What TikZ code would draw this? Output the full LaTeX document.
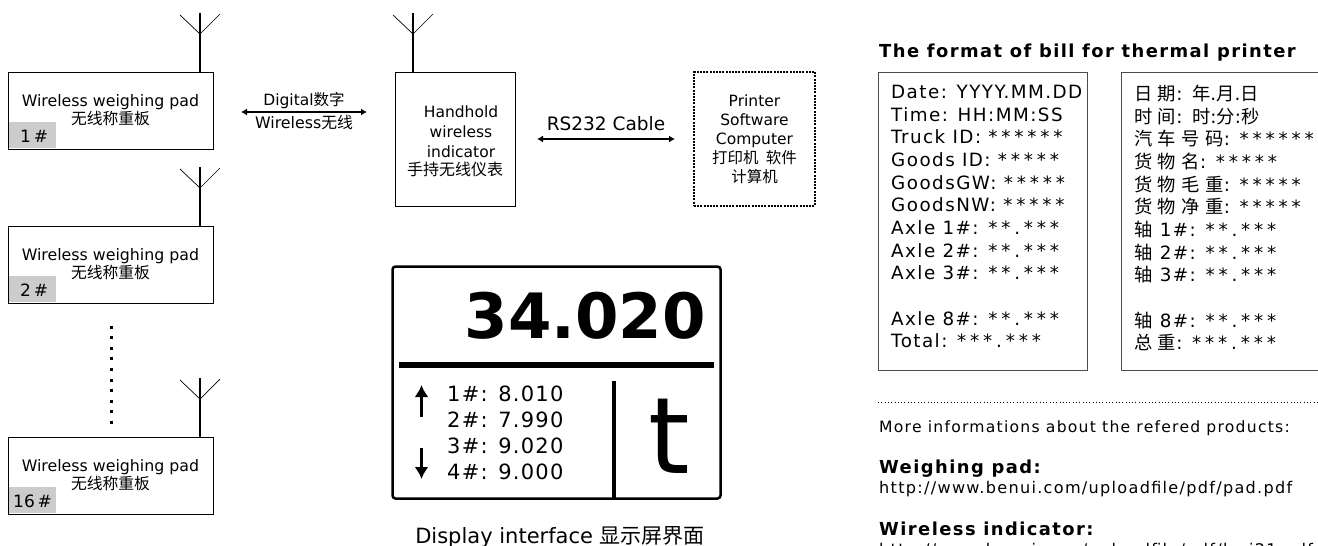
\documentclass[tikz,border=0pt]{standalone}
\usepackage{fontspec}
\usetikzlibrary{arrows.meta}
\setmainfont{DejaVu Sans}
\newfontfamily\cjk{Noto Sans CJK SC}
\newfontfamily\billcjk[LetterSpace=30]{Noto Sans CJK SC}
\newfontfamily\billfont[LetterSpace=8]{DejaVu Sans}
\newfontfamily\starfont[LetterSpace=21]{DejaVu Sans}
\newfontfamily\wghtfont[LetterSpace=6]{DejaVu Sans}
\newcommand{\zh}[1]{{\cjk #1}}
\newcommand{\bz}[1]{{\billcjk #1}}
\newcommand{\st}[1]{{\starfont #1}}
\definecolor{tagColor}{rgb}{0.8,0.8,0.8}
\definecolor{billColor}{rgb}{0.3,0.3,0.3}

\begin{document}
\begin{tikzpicture}[x=1pt,y=-1pt]

          \tikzstyle{padBox} = [draw,line width=1pt,minimum width=205pt,minimum height=77pt,inner sep=0pt,align=center,font=\fontsize{15.8}{18}\selectfont];
          \tikzstyle{devBox} = [draw,line width=1pt,minimum width=120pt,minimum height=134pt,inner sep=0pt];
          \tikzstyle{tagBox} = [fill=tagColor,minimum width=47pt,minimum height=26pt,inner sep=0pt];
          \tikzstyle{tagText} = [anchor=base west,inner sep=0pt,font=\fontsize{17}{20}\selectfont];
          \tikzstyle{mast} = [line width=1.5pt];
          \tikzstyle{arm} = [line width=0.7pt];
          \tikzstyle{link} = [{Latex[length=6pt,width=7pt]}-{Latex[length=6pt,width=7pt]},line width=1.3pt];
          \tikzstyle{bigArrow} = [-{Latex[length=12pt,width=14pt]},line width=2.5pt];
          \tikzstyle{billBox} = [draw=billColor,line width=0.8pt,minimum height=298pt,inner sep=0pt];
          \tikzstyle{billText} = [anchor=north west,inner sep=0pt,align=left,font=\billfont\fontsize{18.3}{22.65}\selectfont];
          \tikzstyle{headText} = [anchor=base west,inner sep=0pt,font=\billfont\bfseries\fontsize{17.9}{20}\selectfont];
          \tikzstyle{infoText} = [anchor=base west,inner sep=0pt,font=\billfont\fontsize{15.6}{18}\selectfont];
          \tikzstyle{urlText} = [anchor=base west,inner sep=0pt,font=\billfont\fontsize{16.1}{18}\selectfont];

          \clip (0,0) rectangle (1318,546);
          \path[fill=white] (0,0) rectangle (1318,546);

          % pads on the left
          \node[tagBox] (tag1) at (32.5,135) {};
          \node[padBox] (pad1) at (110.5,110.5) {Wireless weighing pad\\\zh{无线称重板}};
          \node[tagText] (num1) at (20,142) {1\,\#};
          \coordinate (top1) at (200,13);
          \coordinate (fork1) at (200,34);
          \coordinate (armL1) at (180,15);
          \coordinate (armR1) at (220,14);
          \draw[mast] (top1) -- (top1 |- pad1.north);
          \draw[arm] (armL1) -- (fork1) -- (armR1);

          \node[tagBox] (tag2) at (32.5,289) {};
          \node[padBox] (pad2) at (110.5,264.5) {Wireless weighing pad\\\zh{无线称重板}};
          \node[tagText] (num2) at (20,296) {2\,\#};
          \coordinate (top2) at (200,167);
          \coordinate (fork2) at (200,188);
          \coordinate (armL2) at (180,169);
          \coordinate (armR2) at (220,168);
          \draw[mast] (top2) -- (top2 |- pad2.north);
          \draw[arm] (armL2) -- (fork2) -- (armR2);

          \coordinate (dotsTop) at (111,325.5);
          \coordinate (dotsEnd) at (111,424);
          \draw[line width=3pt,dash pattern=on 3pt off 7.6pt] (dotsTop) -- (dotsEnd);

          \node[tagBox] (tag16) at (32.5,500) {};
          \node[padBox] (pad16) at (110.5,475.5) {Wireless weighing pad\\\zh{无线称重板}};
          \node[tagText] (num16) at (13,507) {16\,\#};
          \coordinate (top16) at (200,378);
          \coordinate (fork16) at (200,399);
          \coordinate (armL16) at (180,380);
          \coordinate (armR16) at (220,379);
          \draw[mast] (top16) -- (top16 |- pad16.north);
          \draw[arm] (armL16) -- (fork16) -- (armR16);

          % indicator and printer
          \node[devBox] (indicator) at (455,139) {};
          \node[inner sep=0pt,align=center,font=\fontsize{15.5}{20}\selectfont] (indicatorText) at (455,141) {\hspace*{12pt}Handhold\\\hspace*{12pt}wireless\\\hspace*{12pt}indicator\\[-2pt]\fontsize{16}{20}\selectfont\zh{手持无线仪表}};
          \coordinate (top0) at (413,13);
          \coordinate (fork0) at (413,34);
          \coordinate (armL0) at (393,15);
          \coordinate (armR0) at (433,14);
          \draw[mast] (top0) -- (top0 |- indicator.north);
          \draw[arm] (armL0) -- (fork0) -- (armR0);

          \node[draw,line width=1.5pt,dash pattern=on 2pt off 1.2pt,minimum width=121pt,minimum height=134pt,inner sep=0pt,align=center,font=\fontsize{15.5}{19}\selectfont] (printer) at (754.5,139) {Printer\\Software\\Computer\\\zh{打印机\hspace{4pt} 软件}\\\zh{计算机}};

          \coordinate (digitalL) at (241,112);
          \coordinate (digitalR) at (367,112);
          \draw[link] (digitalL) -- (digitalR);
          \node[anchor=base,inner sep=0pt,font=\fontsize{15.5}{18}\selectfont] (digital) at (304,105) {Digital\zh{数字}};
          \node[anchor=base,inner sep=0pt,font=\fontsize{15.8}{18}\selectfont] (wireless) at (304,128) {Wireless\zh{无线}};

          \coordinate (cableL) at (537,139);
          \coordinate (cableR) at (675,139);
          \draw[link] (cableL) -- (cableR);
          \node[anchor=base,inner sep=0pt,font=\fontsize{18.5}{20}\selectfont] (cable) at (606,130) {RS232 Cable};

          % display
          \node[draw,line width=2.5pt,rounded corners=3pt,minimum width=328pt,minimum height=232pt,inner sep=0pt] (display) at (556.5,382.5) {};
          \coordinate (ruleL) at (399,365);
          \coordinate (ruleR) at (714,365);
          \draw[line width=6pt] (ruleL) -- (ruleR);
          \coordinate (splitTop) at (614,381);
          \draw[line width=3.5pt] (splitTop) -- (splitTop |- display.south);
          \node[anchor=base east,inner sep=0pt,font=\bfseries\fontsize{62.5}{70}\selectfont] (total) at (706,338) {34.020};
          \node[anchor=base,inner sep=0pt,font=\fontsize{106}{110}\selectfont] (unit) at (669,473) {t};
          \node[anchor=base west,inner sep=0pt,font=\wghtfont\fontsize{21}{26}\selectfont] (row1) at (447,401) {1\#: 8.010};
          \node[anchor=base west,inner sep=0pt,font=\wghtfont\fontsize{21}{26}\selectfont] (row2) at (447,427) {2\#: 7.990};
          \node[anchor=base west,inner sep=0pt,font=\wghtfont\fontsize{21}{26}\selectfont] (row3) at (447,453) {3\#: 9.020};
          \node[anchor=base west,inner sep=0pt,font=\wghtfont\fontsize{21}{26}\selectfont] (row4) at (447,479) {4\#: 9.000};
          \coordinate (upA) at (421.5,417);
          \coordinate (upB) at (421.5,385);
          \coordinate (downA) at (421.5,448);
          \coordinate (downB) at (421.5,479);
          \draw[bigArrow] (upA) -- (upB);
          \draw[bigArrow] (downA) -- (downB);
          \node[anchor=base,inner sep=0pt,font=\fontsize{21}{24}\selectfont] (caption) at (560,543) {Display interface \zh{显示屏界面}};

          % bill on the right
          \node[headText] (billHead) at (879,57) {The format of bill for thermal printer};
          \node[billBox,minimum width=209pt] (billEn) at (982.5,221) {};
          \node[billBox,minimum width=209pt] (billZh) at (1225.5,221) {};
          \node[billText] (linesEn) at (891,85) {Date: YYYY.MM.DD\\Time: HH:MM:SS\\Truck ID: \st{******}\\Goods ID: \st{*****}\\GoodsGW: \st{*****}\\GoodsNW: \st{*****}\\Axle 1\#: \st{**.***}\\Axle 2\#: \st{**.***}\\Axle 3\#: \st{**.***}\\[22.65pt]Axle 8\#: \st{**.***}\\Total: \st{***.***}};
          \node[billText] (linesZh) at (1134,85) {\bz{日期}: \bz{年}.\bz{月}.\bz{日}\\\bz{时间}: \bz{时}:\bz{分}:\bz{秒}\\\bz{汽车号码}: \st{******}\\\bz{货物名}: \st{*****}\\\bz{货物毛重}: \st{*****}\\\bz{货物净重}: \st{*****}\\\bz{轴} 1\#: \st{**.***}\\\bz{轴} 2\#: \st{**.***}\\\bz{轴} 3\#: \st{**.***}\\[22.65pt]\bz{轴} 8\#: \st{**.***}\\\bz{总重}: \st{***.***}};

          \coordinate (sepL) at (878,402);
          \coordinate (sepR) at (1318,402);
          \draw[line width=1pt,dash pattern=on 1pt off 2.3pt] (sepL) -- (sepR);
          \node[infoText] (more) at (879,432) {More informations about the refered products:};
          \node[headText] (padHead) at (879,473) {Weighing pad:};
          \node[urlText] (padUrl) at (879,493) {http://www.benui.com/uploadfile/pdf/pad.pdf};
          \node[headText] (indHead) at (879,535) {Wireless indicator:};
          \node[urlText] (indUrl) at (879,555.5) {http://www.benui.com/uploadfile/pdf/bwi21.pdf};
        \end{tikzpicture}
\end{document}
